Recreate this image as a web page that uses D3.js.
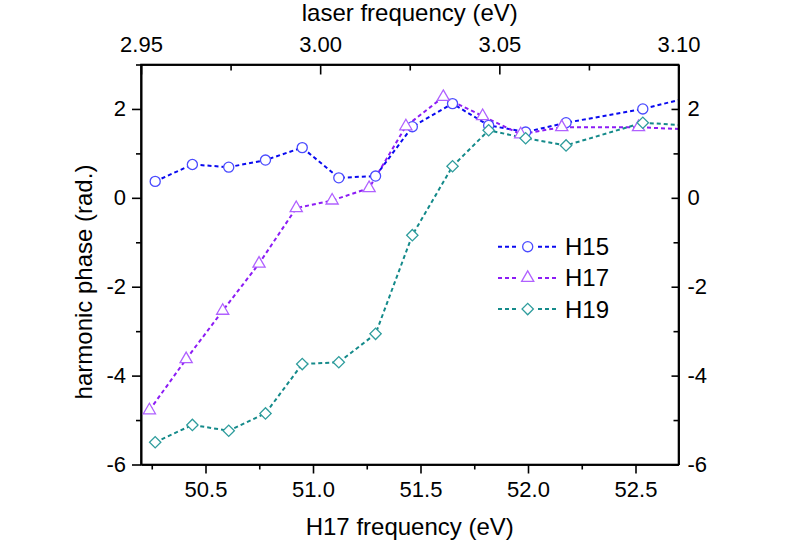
<!DOCTYPE html>
<html><head><meta charset="utf-8">
<script src="https://cdn.jsdelivr.net/npm/d3@7"></script>
<style>body{margin:0;background:#fff}svg{display:block;font-family:Arial,"Liberation Sans",sans-serif}</style>
</head><body><svg id="c" width="789" height="558"></svg>
<script>
// Data (x in H17 frequency, eV; y in rad.)
const h15x = [50.266,50.439,50.608,50.779,50.950,51.120,51.291,51.462,51.649,51.817,51.989,52.177,52.534,52.891];
const h15y = [0.37,0.75,0.69,0.85,1.13,0.45,0.49,1.60,2.12,1.63,1.48,1.69,2.00,2.43];
const h17x = [50.239,50.410,50.580,50.749,50.922,51.089,51.261,51.432,51.606,51.789,51.966,52.157,52.514,52.869];
const h17y = [-4.78,-3.63,-2.54,-1.48,-0.23,-0.06,0.22,1.61,2.27,1.84,1.43,1.59,1.59,1.51];
const h19x = [50.266,50.439,50.608,50.779,50.950,51.120,51.291,51.462,51.649,51.817,51.989,52.177,52.534,52.891];
const h19y = [-5.50,-5.11,-5.24,-4.85,-3.74,-3.70,-3.06,-0.84,0.71,1.52,1.34,1.18,1.69,1.58];
const seriesNames = ["H15","H17","H19"];
const bottomTicks = [50.5,51.0,51.5,52.0,52.5];
const topTicks = [2.95,3.00,3.05,3.10];
const yTicks = [-6,-4,-2,0,2];

const svg = d3.select("#c");
const L=141, R=678.5, T=64.5, B=464.5;
const x = d3.scaleLinear().domain([50.2,52.7]).range([L,R]);
const xt = d3.scaleLinear().domain([2.95,3.10]).range([L,R]);
const y = d3.scaleLinear().domain([-6,3]).range([B,T]);

const series = [
  {name:seriesNames[0], xs:h15x, ys:h15y, line:"#0a0af0", mark:"#4b4bff", sym:d3.symbolCircle, size:80, rot:0},
  {name:seriesNames[1], xs:h17x, ys:h17y, line:"#8c1cf5", mark:"#b061ff", sym:d3.symbolTriangle, size:64, rot:0},
  {name:seriesNames[2], xs:h19x, ys:h19y, line:"#148a8a", mark:"#2f9d9d", sym:d3.symbolSquare, size:64, rot:45}
];

svg.append("defs").append("clipPath").attr("id","clip").append("rect")
  .attr("x",L).attr("y",T).attr("width",R-L).attr("height",B-T);

const FS=22;
function styleAxis(g){g.selectAll("path").attr("stroke","#000").attr("stroke-width",1.6);
  g.selectAll("line").attr("stroke","#000").attr("stroke-width",1.6);
  g.selectAll("text").attr("font-size",FS).attr("fill","#000").attr("font-family","Arial, 'Liberation Sans', sans-serif");}

// bottom
const gbm = svg.append("g").attr("transform",`translate(0,${B})`)
  .call(d3.axisBottom(x).tickValues(d3.range(50.25,52.71,0.5)).tickSize(5).tickFormat("").tickSizeOuter(0));
styleAxis(gbm);
const gb = svg.append("g").attr("transform",`translate(0,${B})`)
  .call(d3.axisBottom(x).tickValues(bottomTicks).tickSize(9).tickSizeOuter(0).tickPadding(8).tickFormat(d3.format(".1f")));
styleAxis(gb);
// top
const gtm = svg.append("g").attr("transform",`translate(0,${T})`)
  .call(d3.axisBottom(xt).tickValues([2.975,3.025,3.075]).tickSize(6).tickFormat("").tickSizeOuter(0));
styleAxis(gtm);
const gt = svg.append("g").attr("transform",`translate(0,${T})`)
  .call(d3.axisTop(xt).tickValues(topTicks).tickSize(0).tickSizeOuter(0).tickPadding(13).tickFormat(d3.format(".2f")));
styleAxis(gt);
gt.selectAll(".tick").append("line").attr("y2",10).attr("stroke","#000").attr("stroke-width",1.6);
// left
const glm = svg.append("g").attr("transform",`translate(${L},0)`)
  .call(d3.axisLeft(y).tickValues([-5,-3,-1,1,3]).tickSize(5).tickFormat("").tickSizeOuter(0));
styleAxis(glm);
const gl = svg.append("g").attr("transform",`translate(${L},0)`)
  .call(d3.axisLeft(y).tickValues(yTicks).tickSize(9).tickPadding(6).tickSizeOuter(0));
styleAxis(gl);
// right
const grm = svg.append("g").attr("transform",`translate(${R},0)`)
  .call(d3.axisLeft(y).tickValues([-5,-3,-1,1,3]).tickSize(5).tickFormat("").tickSizeOuter(0));
styleAxis(grm);
const gr = svg.append("g").attr("transform",`translate(${R},0)`)
  .call(d3.axisRight(y).tickValues(yTicks).tickSize(0).tickPadding(9).tickSizeOuter(0));
styleAxis(gr);
gr.selectAll(".tick").append("line").attr("x2",-7).attr("stroke","#000").attr("stroke-width",1.6);
gl.selectAll("text").text(d=>d<0?"-"+Math.abs(d):d);
gr.selectAll("text").text(d=>d<0?"-"+Math.abs(d):d);

// Titles
svg.append("text").attr("x",(L+R)/2).attr("y",21).attr("text-anchor","middle").attr("font-size",24).text("laser frequency (eV)");
svg.append("text").attr("x",(L+R)/2).attr("y",535).attr("text-anchor","middle").attr("font-size",24).text("H17 frequency (eV)");
svg.append("text").attr("transform",`translate(92,282) rotate(-90)`).attr("text-anchor","middle").attr("font-size",24).text("harmonic phase (rad.)");

// Data
const plot = svg.append("g").attr("clip-path","url(#clip)");
series.forEach(s=>{
  const pts = s.xs.map((v,i)=>[v,s.ys[i]]);
  plot.append("path").datum(pts).attr("fill","none").attr("stroke",s.line).attr("stroke-width",2)
    .attr("stroke-dasharray","4,3").attr("d",d3.line().x(d=>x(d[0])).y(d=>y(d[1])));
});
series.forEach(s=>{
  const pts = s.xs.map((v,i)=>[v,s.ys[i]]).filter(d=>d[0]<=52.7);
  plot.selectAll(null).data(pts).enter().append("path")
    .attr("d",d3.symbol().type(s.sym).size(s.size))
    .attr("transform",d=>`translate(${x(d[0])},${y(d[1])}) rotate(${s.rot})`)
    .attr("fill","#fff").attr("stroke",s.mark).attr("stroke-width",1.3);
});

// Frame
svg.append("rect").attr("x",L).attr("y",T).attr("width",R-L).attr("height",B-T).attr("fill","none").attr("stroke","#000").attr("stroke-width",1.6);

// Legend
const lg = svg.append("g");
series.forEach((s,i)=>{
  const cy = 246.7 + i*31.2;
  lg.append("line").attr("x1",498).attr("x2",516).attr("y1",cy).attr("y2",cy).attr("stroke",s.line).attr("stroke-width",2).attr("stroke-dasharray","4,3");
  lg.append("line").attr("x1",538).attr("x2",556).attr("y1",cy).attr("y2",cy).attr("stroke",s.line).attr("stroke-width",2).attr("stroke-dasharray","4,3");
  lg.append("path").attr("d",d3.symbol().type(s.sym).size(s.size)).attr("transform",`translate(527.7,${cy}) rotate(${s.rot})`)
    .attr("fill","#fff").attr("stroke",s.mark).attr("stroke-width",1.3);
  lg.append("text").attr("x",565).attr("y",cy+8.5).attr("font-size",24).text(s.name);
});
</script></body></html>
